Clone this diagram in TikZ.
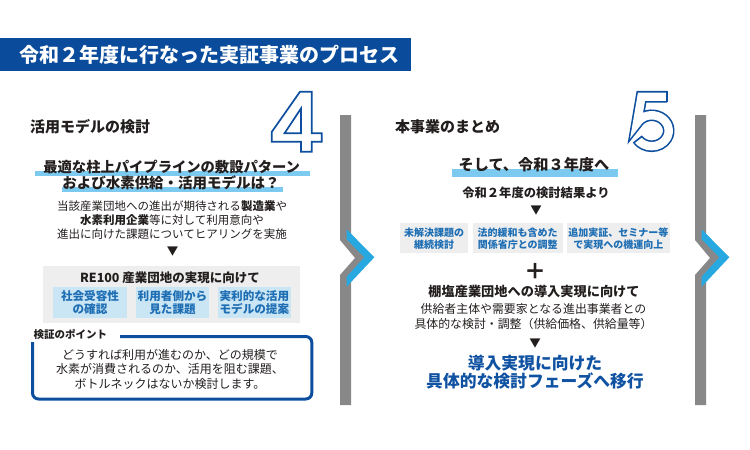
\documentclass[tikz,border=0pt]{standalone}
\usepackage{fontspec}
\newfontfamily\jp{Noto Sans CJK JP}
\newcommand\fsz[2]{\fontsize{#1}{#2}\selectfont}
\definecolor{titleblue}{RGB}{10,76,155}
\definecolor{frameblue}{RGB}{13,79,158}
\definecolor{boxtext}{RGB}{30,110,180}
\definecolor{finalblue}{RGB}{16,82,162}
\definecolor{marker}{RGB}{125,202,240}
\definecolor{lightbluebox}{RGB}{202,229,244}
\definecolor{greybox}{RGB}{238,238,238}
\definecolor{sepgrey}{RGB}{136,136,136}
\definecolor{chevblue}{RGB}{40,168,224}
\definecolor{ink}{RGB}{35,30,30}
\tikzset{
  tt/.style={inner sep=0pt, text=ink, font=\jp, align=center},
  head/.style={tt, anchor=west, font={\jp\bfseries\fsz{15}{18}}},
  bluebox/.style={fill=lightbluebox, inner sep=0pt, text=boxtext, align=center, font={\jp\bfseries\fsz{11.6}{13}}},
  greycell/.style={fill=greybox, inner sep=0pt, text=boxtext, align=center, font={\jp\bfseries\fsz{10}{12}}},
  tri/.style={tt, font={\jp\fsz{11.5}{12}}},
  bignum/.style={draw=frameblue, line width=1.7pt, fill=white, line join=miter},
  sepbar/.style={fill=sepgrey},
  sepchev/.style={fill=chevblue},
}
\begin{document}
\begin{tikzpicture}[x=1pt,y=-1pt]
\useasboundingbox (0,0) rectangle (750,450);
% title bar
\fill[titleblue] (0,38.3) rectangle (411,70.5);
\node[tt, anchor=west, text=white, font={\jp\bfseries\fsz{20}{21}}] (title) at (19.5,54.5) {令和２年度に行なった実証事業のプロセス};

% separators
\foreach \dx in {0,355}{
  \begin{scope}[xshift=\dx]
    \fill[sepbar] (340,115) -- (351,115) -- (351,234) -- (368,257.3) -- (351,281) -- (351,405) -- (340,405) -- (340,275) -- (355,258) -- (340,240) -- cycle;
    \fill[sepchev] (346.7,229.3) -- (374.3,257.3) -- (346.7,286.7) -- (346.7,276.7) -- (364.3,257.3) -- (346.7,239.3) -- cycle;
  \end{scope}
}

% big number 4
\path[bignum, even odd rule] (300,91.7) -- (311.7,91.7) -- (311.7,133.3) -- (321.7,133.3) -- (321.7,141.7) -- (311.7,141.7) -- (311.7,151.7) -- (301,151.7) -- (301,141.7) -- (271.7,141.7) -- (271.7,132) -- cycle
  (301,108.5) -- (301,133.3) -- (284.5,133.3) -- cycle;

% big number 5 (hollow stroke)
\draw[frameblue, line width=1.6pt, double=white, double distance=8.4pt, line join=miter]
  (667,96.7) -- (641.5,96.7) -- (637,123) arc[start angle=-150, end angle=145, x radius=17, y radius=15.5];
\draw[frameblue, line width=1.6pt] (667,91.1) -- (667,102.3);
\draw[frameblue, line width=1.6pt] (642.2,136.2) -- (633.3,143.05);

% ---------- left panel ----------
\node[head] (lhead) at (30,126.5) {活用モデルの検討};
\fill[marker] (35,170.7) rectangle (310,176);
\fill[marker] (61.7,186.7) rectangle (283,192);
\node[tt, font={\jp\bfseries\fsz{14.3}{16}}] (q1) at (171.7,166.5) {最適な柱上パイプラインの敷設パターン};
\node[tt, font={\jp\bfseries\fsz{14.5}{16}}] (q2) at (171,183) {および水素供給・活用モデルは？};
\node[tt, font={\jp\fsz{11.5}{14}}] (lbody) at (172,220.5) {当該産業団地への進出が期待される{\bfseries 製造業}や\\{\bfseries 水素利用企業}等に対して利用意向や\\進出に向けた課題についてヒアリングを実施};
\node[tri] (ltri) at (172.5,252) {▼};
\node[fill=greybox, inner sep=0pt, minimum width=256.7pt, minimum height=57.6pt] (lgrey) at (171.65,294.5) {};
\node[tt, font={\jp\bfseries\fsz{12.5}{14}}] (re100) at (170,277.5) {RE100 産業団地の実現に向けて};
\node[bluebox, minimum width=73.4pt, minimum height=31.6pt] (lb1) at (90,302.5) {社会受容性\\の確認};
\node[bluebox, minimum width=73.6pt, minimum height=31.6pt] (lb2) at (172.5,302.5) {利用者側から\\見た課題};
\node[bluebox, minimum width=73.3pt, minimum height=31.6pt] (lb3) at (254.35,302.5) {実利的な活用\\モデルの提案};
\draw[frameblue, line width=3pt, rounded corners=6pt] (120,336.5) -- (311.8,336.5) -- (311.8,399) -- (32.5,399) -- (32.5,342);
\node[tt, anchor=west, font={\jp\bfseries\fsz{10.5}{12}}] (point) at (33.3,334) {検証のポイント};
\node[tt, font={\jp\fsz{12}{14.5}}] (pbody) at (170,369) {どうすれば利用が進むのか、どの規模で\\水素が消費されるのか、活用を阻む課題、\\ボトルネックはないか検討します。};

% ---------- right panel ----------
\node[head] (rhead) at (395,126.5) {本事業のまとめ};
\fill[marker] (451.7,169.3) rectangle (618.3,176.5);
\node[tt, font={\jp\bfseries\fsz{15.2}{17}}] (r3y) at (534,164.5) {そして、令和３年度へ};
\node[tt, font={\jp\bfseries\fsz{12.3}{14}}] (r2y) at (536,192.5) {令和２年度の検討結果より};
\node[tri] (rtri1) at (536,211) {▼};
\node[greycell, minimum width=68.3pt, minimum height=30pt] (rc1) at (434.15,238.3) {未解決課題の\\継続検討};
\node[greycell, minimum width=90pt, minimum height=30pt] (rc2) at (517.7,238.3) {法的緩和も含めた\\関係省庁との調整};
\node[greycell, minimum width=103.3pt, minimum height=30pt] (rc3) at (618.35,238.3) {追加実証、セミナー等\\で実現への機運向上};
\node[tt, font={\jp\bfseries\fsz{22}{24}}] (plus) at (535,271) {＋};
\node[tt, font={\jp\bfseries\fsz{13.2}{15}}] (tana) at (534,291.5) {棚塩産業団地への導入実現に向けて};
\node[tt, font={\jp\fsz{11.9}{15}}] (rbody) at (533.5,316.5) {供給者主体や需要家となる進出事業者との\\具体的な検討・調整（供給価格、供給量等）};
\node[tri] (rtri2) at (535,344) {▼};
\node[tt, text=finalblue, font={\jp\bfseries\fsz{16.8}{18}}] (final) at (535,372.5) {導入実現に向けた\\具体的な検討フェーズへ移行};
\end{tikzpicture}
\end{document}
